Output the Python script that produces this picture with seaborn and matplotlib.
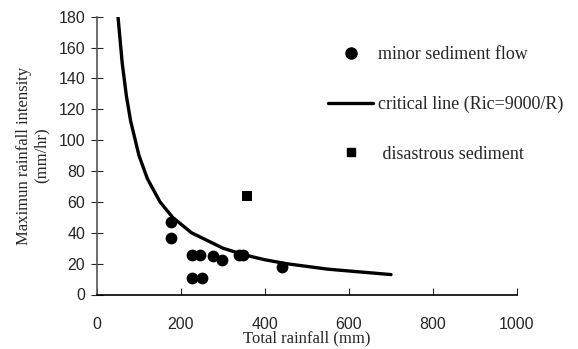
import matplotlib
matplotlib.use("Agg")
import matplotlib.pyplot as plt
from matplotlib.lines import Line2D
import seaborn as sns
import pandas as pd

# minor sediment flow events
minor_rain = [176, 176, 225, 245, 275, 298, 339, 348, 440, 225, 249]
minor_int = [47, 36.5, 25.5, 25.5, 25, 22.5, 25.5, 25.5, 17.5, 10.5, 10.5]

# disastrous sediment event
disaster_rain = [356]
disaster_int = [63.5]

# critical line Ric = 9000/R
crit_rain = [50, 60, 70, 80, 100, 120, 150, 180, 225, 300, 350, 400, 450, 550, 700]
crit_int = [180, 150, 128.6, 112.5, 90, 75, 60, 50, 40, 30, 25.7, 22.5, 20, 16.4, 12.9]

minor_df = pd.DataFrame({"rain": minor_rain, "intensity": minor_int})
disaster_df = pd.DataFrame({"rain": disaster_rain, "intensity": disaster_int})
crit_df = pd.DataFrame({"rain": crit_rain, "intensity": crit_int})

sns.set_style("ticks")
serif = ["Liberation Serif", "DejaVu Serif"]
sans = ["Liberation Sans", "DejaVu Sans"]
plt.rcParams["font.family"] = sans

fig = plt.figure(figsize=(5.78, 3.49), dpi=100)
ax = fig.add_axes([97 / 578, 1 - 294.5 / 349, 420 / 578, 277.8 / 349])

sns.lineplot(data=crit_df, x="rain", y="intensity", ax=ax, color="black",
             linewidth=2.4, sort=False, estimator=None)
sns.scatterplot(data=minor_df, x="rain", y="intensity", ax=ax, color="black",
                marker="o", s=72, edgecolor="black", linewidth=0, zorder=3)
sns.scatterplot(data=disaster_df, x="rain", y="intensity", ax=ax, color="black",
                marker="s", s=45, edgecolor="black", linewidth=0, zorder=3)

ax.set_xlim(0, 1000)
ax.set_ylim(0, 180)
ax.set_xticks([0, 200, 400, 600, 800, 1000])
ax.set_yticks(range(0, 181, 20))
ax.tick_params(axis="x", direction="in", length=5, width=0.8, pad=16, labelsize=11.5)
ax.tick_params(axis="y", direction="inout", length=9, width=0.8, pad=4, labelsize=11.5)

sns.despine(ax=ax)
ax.spines["left"].set_color("#555555")
ax.spines["left"].set_linewidth(1.2)
ax.spines["bottom"].set_color("black")
ax.spines["bottom"].set_linewidth(1.2)

ax.set_xlabel("Total rainfall (mm)", family=serif, fontsize=12, labelpad=-1)
ax.set_ylabel("Maximun rainfall intensity\n(mm/hr)", family=serif, fontsize=12,
              labelpad=6, linespacing=1.15)

handles = [
    Line2D([], [], color="black", marker="o", linestyle="none", markersize=8),
    Line2D([], [], color="black", linewidth=2.4),
    Line2D([], [], color="black", marker="s", linestyle="none", markersize=5.5),
]
labels = ["minor sediment flow", "critical line (Ric=9000/R)", " disastrous sediment"]
leg = fig.legend(handles, labels, loc="upper left", bbox_to_anchor=(312 / 578, 1 - 30 / 349),
                 frameon=False, labelspacing=1.8, handlelength=2.5, handletextpad=0.28,
                 prop={"family": serif, "size": 13})

fig.savefig("out.png", dpi=100)
